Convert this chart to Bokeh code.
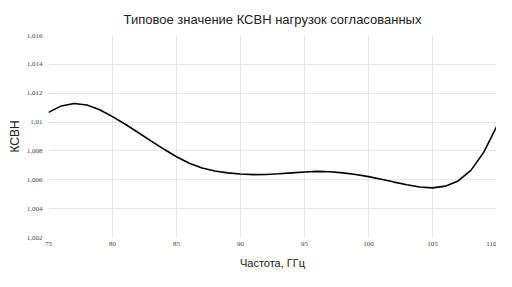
from bokeh.plotting import figure
from bokeh.models import Range1d, FixedTicker
from bokeh.embed import file_html
from bokeh.resources import INLINE

# Data
freq = [75, 76, 77, 78, 79, 80, 81, 82, 83, 84, 85, 86, 87, 88, 89, 90, 91, 92,
        93, 94, 95, 96, 97, 98, 99, 100, 101, 102, 103, 104, 105, 106, 107, 108,
        109, 110]
vswr = [1.01067, 1.01112, 1.01129, 1.01118, 1.01085, 1.01038, 1.00985, 1.00928,
        1.00870, 1.00813, 1.00760, 1.00715, 1.00682, 1.00661, 1.00648, 1.00640,
        1.00636, 1.00637, 1.00642, 1.00648, 1.00654, 1.00658, 1.00656, 1.00648,
        1.00637, 1.00622, 1.00604, 1.00584, 1.00565, 1.00550, 1.00544, 1.00556,
        1.00592, 1.00665, 1.00790, 1.00967]

x_ticks = [75, 80, 85, 90, 95, 100, 105, 110]
y_ticks = [1.002, 1.004, 1.006, 1.008, 1.010, 1.012, 1.014, 1.016]
y_tick_labels = ["1,002", "1,004", "1,006", "1,008", "1,01", "1,012", "1,014", "1,016"]

title_text = "Типовое значение КСВН нагрузок согласованных"
x_label = "Частота, ГГц"
y_label = "КСВН"

p = figure(width=496, height=271, output_backend="svg", toolbar_location=None,
           x_range=Range1d(75, 110), y_range=Range1d(1.002, 1.016),
           min_border_left=48, min_border_right=0, min_border_top=33,
           min_border_bottom=34)
p.outline_line_color = None
p.background_fill_color = "white"
p.border_fill_color = "white"

p.title.text = title_text
p.title.align = "center"
p.title.text_font = "Liberation Sans"
p.title.text_font_size = "13px"
p.title.text_font_style = "normal"
p.title.text_color = "#222222"
p.title.standoff = 18

p.xaxis.ticker = FixedTicker(ticks=x_ticks, minor_ticks=[])
p.yaxis.ticker = FixedTicker(ticks=y_ticks, minor_ticks=[])
p.yaxis.major_label_overrides = {t: l for t, l in zip(y_ticks, y_tick_labels)}
p.xgrid.ticker = FixedTicker(ticks=x_ticks, minor_ticks=[])
p.ygrid.ticker = FixedTicker(ticks=y_ticks, minor_ticks=[])

for ax in (p.xaxis[0], p.yaxis[0]):
    ax.axis_line_color = None
    ax.major_tick_line_color = None
    ax.minor_tick_line_color = None
    ax.major_tick_out = 0
    ax.major_tick_in = 0
    ax.major_label_text_font = "Liberation Serif"
    ax.major_label_text_font_size = "7px"
    ax.major_label_text_color = "#444444"
    ax.axis_label_text_font = "Liberation Sans"
    ax.axis_label_text_font_style = "normal"
    ax.axis_label_text_color = "#222222"

p.xaxis.axis_label = x_label
p.xaxis.axis_label_text_font_size = "11px"
p.xaxis.major_label_standoff = 4
p.xaxis.axis_label_standoff = 8

p.yaxis.axis_label = y_label
p.yaxis.axis_label_text_font_size = "12px"
p.yaxis.major_label_standoff = 6
p.yaxis.axis_label_standoff = 2

p.xgrid.grid_line_color = "#e6e6e6"
p.ygrid.grid_line_color = "#e6e6e6"
p.xgrid.grid_line_width = 1
p.ygrid.grid_line_width = 1

p.line(freq, vswr, line_color="black", line_width=1.6)

open("out.html", "w").write(file_html(p, INLINE))
